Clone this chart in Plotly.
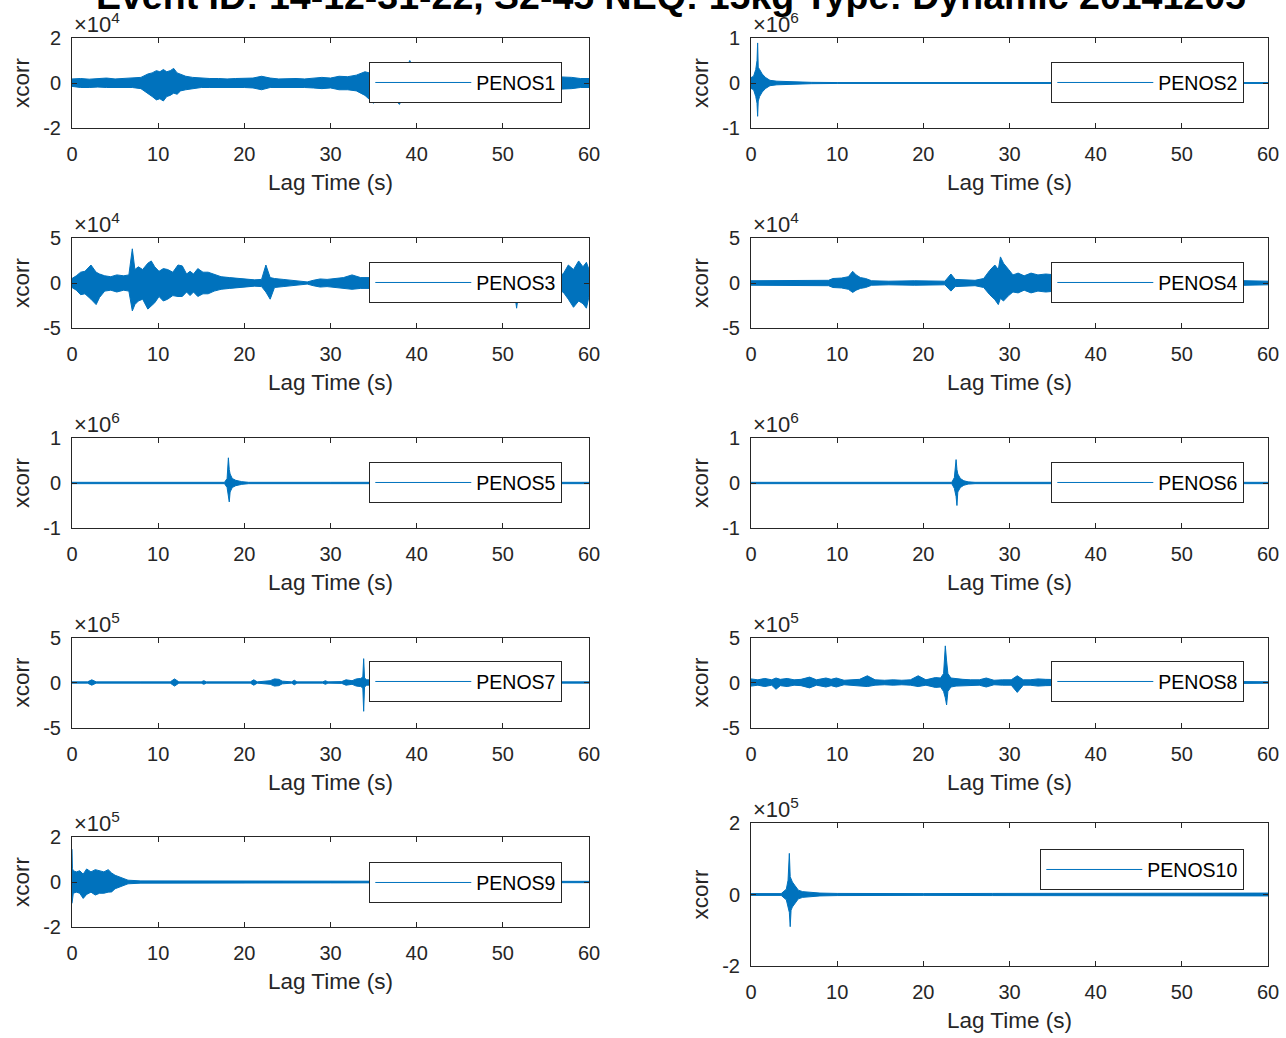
import plotly.graph_objects as go

# ---------------- data (envelopes, scaled units) ----------------
station_names = ["PENOS1", "PENOS2", "PENOS3", "PENOS4", "PENOS5",
                 "PENOS6", "PENOS7", "PENOS8", "PENOS9", "PENOS10"]
exponents = [4, 6, 4, 4, 6, 6, 5, 5, 5, 5]
y_limits = [2, 1, 5, 5, 1, 1, 5, 5, 2, 2]
x_ticks = [0, 10, 20, 30, 40, 50, 60]

penos1_t = [0, 1, 2, 3, 4, 5, 6, 7, 8, 8.8, 9.3, 9.8, 10.2, 10.6, 11.0, 11.4, 11.8, 12.2, 12.6, 13.2,
            14, 15, 16, 17, 18, 19, 20, 21, 22, 23, 24, 25, 26, 27, 28, 29, 30, 31, 32, 33,
            34, 35, 36, 37, 38, 38.6, 39.2, 40, 45, 50, 55, 58, 59, 60]
penos1_up = [0.18, 0.2, 0.17, 0.2, 0.22, 0.18, 0.2, 0.22, 0.25, 0.4, 0.45, 0.55, 0.5, 0.6, 0.5, 0.55, 0.65, 0.45, 0.4, 0.3,
             0.25, 0.22, 0.2, 0.2, 0.18, 0.2, 0.2, 0.22, 0.3, 0.22, 0.18, 0.2, 0.2, 0.18, 0.22, 0.25, 0.22, 0.3, 0.28, 0.35,
             0.5, 0.4, 0.4, 0.4, 0.45, 0.5, 1.0, 0.4, 0.3, 0.3, 0.3, 0.25, 0.2, 0.2]
penos1_lo = [-0.15, -0.2, -0.2, -0.18, -0.2, -0.2, -0.22, -0.2, -0.25, -0.45, -0.6, -0.75, -0.7, -0.8, -0.6, -0.55, -0.45, -0.5, -0.35, -0.3,
             -0.25, -0.2, -0.2, -0.2, -0.18, -0.2, -0.2, -0.22, -0.3, -0.2, -0.2, -0.2, -0.18, -0.2, -0.22, -0.25, -0.22, -0.3, -0.3, -0.35,
             -0.55, -0.9, -0.5, -0.5, -0.95, -0.5, -0.5, -0.4, -0.3, -0.3, -0.3, -0.25, -0.2, -0.2]

penos2_t = [0, 0.3, 0.55, 0.7, 0.77, 0.84, 1.0, 1.3, 1.7, 2.2, 3.0, 4.0, 5.0, 7, 10, 20, 30, 40, 50, 60]
penos2_up = [0.12, 0.15, 0.3, 0.5, 0.89, 0.35, 0.3, 0.2, 0.12, 0.06, 0.04, 0.03, 0.02, 0.015, 0.01, 0.01, 0.01, 0.01, 0.01, 0.01]
penos2_lo = [-0.12, -0.15, -0.3, -0.45, -0.74, -0.4, -0.3, -0.2, -0.12, -0.06, -0.04, -0.03, -0.02, -0.015, -0.01, -0.01, -0.01, -0.01, -0.01, -0.01]

penos3_t = [0, 0.5, 1.0, 1.5, 2.2, 2.8, 3.2, 3.8, 4.5, 5.2, 6.0, 6.6, 7.0, 7.3, 7.7, 8.2, 8.8, 9.2, 9.6, 10.1,
            10.6, 11.1, 11.7, 12.3, 12.8, 13.3, 13.7, 14.1, 14.6, 15.2, 15.8, 16.5, 17.3, 18.3, 19.3, 20.2, 21.2, 22.0, 22.5, 23.0,
            23.5, 24.5, 25.5, 26.5, 27.3, 28.0, 28.8, 29.6, 30.5, 31.5, 32.5, 33.5, 34.5, 40, 45, 50, 51.3, 51.6, 51.9, 55,
            57, 57.6, 58.2, 58.8, 59.3, 59.7, 60]
penos3_up = [0.5, 0.8, 1.2, 1.3, 2.0, 1.2, 1.0, 0.8, 0.7, 0.9, 0.8, 0.9, 3.8, 1.5, 1.8, 1.5, 2.2, 2.45, 1.8, 1.3,
             1.6, 1.5, 1.2, 2.0, 1.9, 1.0, 1.3, 1.0, 1.6, 1.2, 1.2, 1.0, 0.7, 0.6, 0.5, 0.4, 0.35, 0.4, 2.0, 0.6,
             0.5, 0.4, 0.3, 0.2, 0.12, 0.3, 0.45, 0.4, 0.5, 0.6, 0.9, 0.6, 0.6, 0.6, 0.6, 0.6, 0.6, 0.6, 0.6, 0.7,
             1.0, 2.0, 1.5, 2.45, 1.8, 2.3, 1.5]
penos3_lo = [-0.5, -0.8, -1.3, -1.2, -1.8, -2.4, -1.6, -0.9, -0.8, -1.0, -0.8, -0.9, -3.1, -2.4, -2.0, -1.8, -2.9, -2.6, -2.2, -1.5,
             -2.0, -1.8, -1.4, -1.5, -1.5, -1.0, -1.4, -1.0, -1.5, -1.2, -1.2, -0.9, -0.7, -0.6, -0.5, -0.4, -0.35, -0.4, -1.0, -1.8,
             -0.5, -0.4, -0.3, -0.2, -0.12, -0.3, -0.45, -0.4, -0.5, -0.6, -0.7, -0.6, -0.6, -0.6, -0.6, -0.6, -0.6, -2.8, -0.6, -0.7,
             -1.0, -1.8, -2.7, -2.0, -2.3, -2.8, -1.5]

penos4_t = [0, 3, 6, 9.0, 9.5, 10.5, 11.3, 11.8, 12.2, 12.7, 13.3, 14.0, 16, 19, 22.5, 23.2, 23.7, 24.5, 26, 27.0,
            27.7, 28.3, 28.7, 28.95, 29.3, 29.9, 30.4, 31.0, 31.7, 32.5, 33.3, 34.2, 40, 50, 57, 60]
penos4_up = [0.25, 0.25, 0.25, 0.3, 0.5, 0.55, 0.7, 1.3, 0.9, 0.6, 0.5, 0.25, 0.2, 0.25, 0.2, 1.0, 0.4, 0.35, 0.3, 0.5,
             1.4, 2.0, 1.5, 2.9, 2.2, 1.5, 0.9, 1.1, 0.8, 1.1, 0.9, 1.0, 0.5, 0.4, 0.25, 0.2]
penos4_lo = [-0.25, -0.25, -0.25, -0.3, -0.5, -0.55, -0.7, -1.05, -0.8, -0.6, -0.5, -0.25, -0.2, -0.25, -0.2, -0.9, -0.4, -0.35, -0.3, -0.5,
             -1.3, -1.85, -2.4, -1.7, -2.0, -1.4, -1.0, -1.1, -0.8, -1.1, -0.9, -1.0, -0.5, -0.4, -0.25, -0.2]

penos5_t = [0, 10, 17.7, 18.0, 18.15, 18.25, 18.35, 18.6, 19.0, 19.7, 20.5, 30, 40, 50, 60]
penos5_up = [0.015, 0.015, 0.015, 0.1, 0.56, 0.3, 0.2, 0.1, 0.06, 0.03, 0.015, 0.015, 0.015, 0.015, 0.015]
penos5_lo = [-0.015, -0.015, -0.015, -0.1, -0.3, -0.42, -0.2, -0.1, -0.06, -0.03, -0.015, -0.015, -0.015, -0.015, -0.015]

penos6_t = [0, 10, 23.3, 23.6, 23.8, 23.9, 24.0, 24.3, 24.7, 25.2, 26, 40, 60]
penos6_up = [0.015, 0.015, 0.015, 0.12, 0.52, 0.3, 0.2, 0.1, 0.05, 0.025, 0.015, 0.015, 0.015]
penos6_lo = [-0.015, -0.015, -0.015, -0.12, -0.3, -0.5, -0.2, -0.1, -0.05, -0.025, -0.015, -0.015, -0.015]

penos7_t = [0, 1.8, 2.3, 2.8, 8, 11.4, 11.9, 12.4, 15.0, 15.3, 15.6, 20.7, 21.1, 21.5, 23.0, 23.5, 24.0, 24.4, 25.5, 25.8,
            26.1, 29.1, 29.4, 29.7, 31.3, 31.8, 32.5, 33.0, 33.5, 33.75, 33.85, 33.95, 34.2, 45, 60]
penos7_up = [0.07, 0.07, 0.3, 0.07, 0.07, 0.07, 0.4, 0.07, 0.07, 0.2, 0.07, 0.07, 0.3, 0.07, 0.2, 0.4, 0.35, 0.15, 0.07, 0.25,
             0.07, 0.07, 0.2, 0.07, 0.1, 0.3, 0.2, 0.4, 0.45, 0.6, 2.65, 0.5, 0.3, 0.07, 0.07]
penos7_lo = [-0.07, -0.07, -0.3, -0.07, -0.07, -0.07, -0.4, -0.07, -0.07, -0.2, -0.07, -0.07, -0.3, -0.07, -0.2, -0.4, -0.35, -0.15, -0.07, -0.25,
             -0.07, -0.07, -0.2, -0.07, -0.1, -0.3, -0.2, -0.4, -0.45, -0.6, -3.2, -0.5, -0.3, -0.07, -0.07]

penos8_t = [0, 0.8, 1.6, 2.4, 2.9, 3.4, 4.2, 5.0, 5.8, 6.8, 7.6, 8.7, 9.3, 9.9, 10.8, 11.8, 12.6, 13.5, 14.4, 15.5,
            16.5, 17.5, 18.5, 19.4, 20.3, 21.4, 22.0, 22.35, 22.55, 22.7, 22.85, 23.2, 23.8, 24.6, 25.5, 26.5, 27.3, 28.2, 29.2, 30.2,
            30.9, 31.6, 32.4, 33.3, 34.2, 45, 57, 60]
penos8_up = [0.4, 0.3, 0.45, 0.3, 0.5, 0.35, 0.45, 0.3, 0.35, 0.6, 0.3, 0.5, 0.35, 0.5, 0.25, 0.3, 0.35, 0.75, 0.3, 0.25,
             0.3, 0.25, 0.3, 0.75, 0.3, 0.55, 0.5, 1.0, 4.07, 2.4, 1.0, 0.5, 0.4, 0.35, 0.3, 0.3, 0.5, 0.25, 0.3, 0.3,
             0.75, 0.3, 0.3, 0.4, 0.35, 0.15, 0.1, 0.08]
penos8_lo = [-0.4, -0.3, -0.45, -0.3, -0.75, -0.35, -0.45, -0.3, -0.35, -0.6, -0.3, -0.5, -0.35, -0.5, -0.25, -0.3, -0.35, -0.45, -0.3, -0.25,
             -0.3, -0.25, -0.3, -0.45, -0.3, -0.55, -0.5, -1.0, -1.7, -2.5, -1.0, -0.5, -0.4, -0.35, -0.3, -0.3, -0.5, -0.25, -0.3, -0.3,
             -1.1, -0.3, -0.3, -0.4, -0.35, -0.15, -0.1, -0.08]

penos9_t = [0, 0.05, 0.15, 0.5, 0.9, 1.3, 1.7, 2.2, 2.7, 3.2, 3.7, 4.2, 4.6, 5.0, 5.7, 6.5, 8, 15, 30, 45, 60]
penos9_up = [1.46, 0.6, 0.5, 0.45, 0.5, 0.35, 0.58, 0.45, 0.55, 0.5, 0.45, 0.55, 0.4, 0.3, 0.2, 0.08, 0.05, 0.04, 0.04, 0.03, 0.03]
penos9_lo = [-0.95, -0.6, -0.5, -0.45, -0.5, -0.73, -0.55, -0.45, -0.58, -0.5, -0.5, -0.45, -0.44, -0.3, -0.2, -0.08, -0.05, -0.04, -0.04, -0.03, -0.03]

penos10_t = [0, 3.5, 4.1, 4.3, 4.45, 4.55, 4.65, 4.8, 5.1, 5.5, 6.0, 7, 8, 10, 14, 20, 28, 35, 45, 55, 60]
penos10_up = [0.025, 0.025, 0.15, 0.4, 1.15, 0.5, 0.44, 0.35, 0.25, 0.12, 0.08, 0.05, 0.04, 0.03, 0.025, 0.025, 0.03, 0.03, 0.03, 0.03, 0.04]
penos10_lo = [-0.025, -0.025, -0.15, -0.4, -0.5, -0.9, -0.44, -0.35, -0.25, -0.12, -0.08, -0.05, -0.04, -0.03, -0.025, -0.025, -0.03, -0.03, -0.03, -0.03, -0.04]

lag_times = [penos1_t, penos2_t, penos3_t, penos4_t, penos5_t, penos6_t, penos7_t, penos8_t, penos9_t, penos10_t]
upper_env = [penos1_up, penos2_up, penos3_up, penos4_up, penos5_up, penos6_up, penos7_up, penos8_up, penos9_up, penos10_up]
lower_env = [penos1_lo, penos2_lo, penos3_lo, penos4_lo, penos5_lo, penos6_lo, penos7_lo, penos8_lo, penos9_lo, penos10_lo]

title_text = "Event ID: 14-12-31-22, S2-45 NEQ: 15kg Type: Dynamic 20141205"

# ---------------- layout geometry (pixels in a 1286x1038 page) ----------------
W, H = 1286, 1038
col_x = [(72, 589), (751, 1268)]
row_y = [(38, 128), (38, 128), (238, 328), (238, 328), (438, 528), (438, 528),
         (637.5, 727.5), (637.5, 727.5), (837, 927), (823, 966)]
legend_pos = [(562, 62), (1244, 62), (562, 262), (1244, 262), (562, 462), (1244, 462),
              (562, 661), (1244, 661), (562, 862), (1244, 849)]

LINE = "#0072BD"
AX = "#262626"
FONT = "Liberation Sans, Arial, Helvetica, sans-serif"

fig = go.Figure()
layout = dict(
    template="none",
    width=W, height=H, margin=dict(l=0, r=0, t=0, b=0, autoexpand=False),
    paper_bgcolor="white", plot_bgcolor="white",
    font=dict(family=FONT, color=AX, size=20),
    annotations=[], showlegend=True,
)

for i, name in enumerate(station_names):
    k = i + 1
    sfx = "" if k == 1 else str(k)
    xa, ya = "x" + sfx, "y" + sfx
    scale = 10 ** exponents[i]
    up = [v * scale for v in upper_env[i]]
    lo = [v * scale for v in lower_env[i]]
    leg = "legend" + sfx
    fig.add_trace(go.Scatter(x=lag_times[i], y=up, mode="lines", name=name,
                             line=dict(color=LINE, width=1), xaxis=xa, yaxis=ya,
                             legend=leg, hoverinfo="skip"))
    fig.add_trace(go.Scatter(x=lag_times[i], y=lo, mode="lines", name=name,
                             line=dict(color=LINE, width=1), fill="tonexty", fillcolor=LINE,
                             xaxis=xa, yaxis=ya, legend=leg, showlegend=False, hoverinfo="skip"))

    c = i % 2
    x0, x1 = col_x[c]
    y0, y1 = row_y[i]
    lim = y_limits[i] * scale
    layout["xaxis" + sfx] = dict(
        domain=[x0 / W, x1 / W], anchor=ya, range=[0, 60], automargin=False,
        tickvals=x_ticks, ticktext=[str(v) for v in x_ticks],
        ticks="inside", ticklen=5, tickcolor=AX, showline=True, linecolor=AX, linewidth=1,
        mirror="ticks", showgrid=False, zeroline=False,
        tickfont=dict(size=20, color=AX), ticklabelstandoff=8,
        title=dict(text="Lag Time (s)", font=dict(size=22.5, color=AX), standoff=10),
    )
    yl = y_limits[i]
    layout["yaxis" + sfx] = dict(
        domain=[1 - y1 / H, 1 - y0 / H], anchor=xa, range=[-lim, lim], automargin=False,
        tickvals=[-lim, 0, lim], ticktext=["-" + str(yl), "0", str(yl)],
        ticks="inside", ticklen=5, tickcolor=AX, showline=True, linecolor=AX, linewidth=1,
        mirror="ticks", showgrid=False, zeroline=False,
        tickfont=dict(size=20, color=AX), ticklabelstandoff=6,
        title=dict(text="xcorr", font=dict(size=22.5, color=AX), standoff=7),
    )
    lx, ly = legend_pos[i]
    layout[leg] = dict(
        x=lx / W, y=1 - ly / H, xanchor="right", yanchor="top",
        bgcolor="white", bordercolor=AX, borderwidth=1.3,
        font=dict(size=19.5, color="#000000", family=FONT), itemwidth=96,
    )
    layout["annotations"].append(dict(
        x=x0 / W, y=1 - y0 / H, xref="paper", yref="paper", xanchor="left", yanchor="bottom",
        text="×10<sup>%d</sup>" % exponents[i], showarrow=False,
        font=dict(size=22, color=AX), xshift=0, yshift=-1,
    ))

layout["annotations"].append(dict(
    x=671 / W, y=1, xref="paper", yref="paper", xanchor="center", yanchor="middle",
    text="<b>%s</b>" % title_text, showarrow=False,
    font=dict(size=37.5, color="#000000", family=FONT), yshift=4,
))

fig.update_layout(**layout)
fig.write_html("out.html", config={"displayModeBar": False},
               post_script="document.body.style.margin='0';")
